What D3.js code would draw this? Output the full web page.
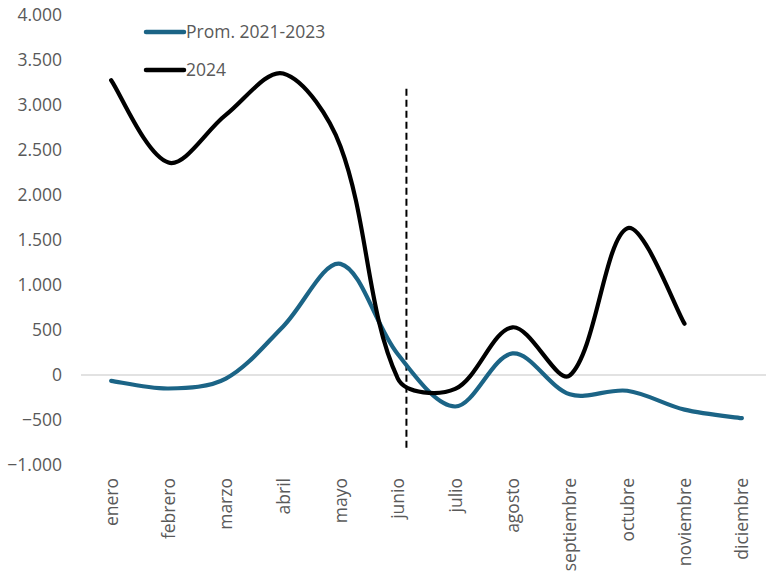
<!DOCTYPE html>
<html>
<head>
<meta charset="utf-8">
<script src="https://cdn.jsdelivr.net/npm/d3@7"></script>
<style>
  html, body { margin: 0; padding: 0; background: #ffffff; }
  svg { display: block; }
  text { font-family: "Open Sans", "Liberation Sans", sans-serif; fill: #595959; }
</style>
</head>
<body>
<svg id="chart" width="766" height="574"></svg>
<script>
// Months on the category axis
const months = ["enero", "febrero", "marzo", "abril", "mayo", "junio",
                "julio", "agosto", "septiembre", "octubre", "noviembre", "diciembre"];

// Average 2021-2023
const prom = [-65, -150, -40, 540, 1235, 230, -350, 240, -215, -175, -385, -480];

// 2024 (through noviembre)
const y2024 = [3275, 2360, 2890, 3350, 2540, -40, -155, 530, -5, 1630, 570];

// Value-axis ticks
const yTicks = [-1000, -500, 0, 500, 1000, 1500, 2000, 2500, 3000, 3500, 4000];

// Vertical dashed reference: category position and value span
const refPos = 5.15;
const refSpan = [3180, -810];

const legendItems = [
  { label: "Prom. 2021-2023", color: "#1b6486" },
  { label: "2024", color: "#000000" }
];

// Smooth curve whose tangents are split by neighbouring chord lengths,
// so short segments next to long ones do not overshoot.
function curveChordSmooth(context) {
  let pts = [];
  return {
    areaStart() {}, areaEnd() {},
    lineStart() { pts = []; },
    point(x, y) { pts.push([+x, +y]); },
    lineEnd() {
      const n = pts.length;
      if (!n) return;
      context.moveTo(pts[0][0], pts[0][1]);
      if (n === 1) return;
      if (n === 2) { context.lineTo(pts[1][0], pts[1][1]); return; }
      const inC = [], outC = [];
      for (let i = 0; i < n; i++) {
        const p = pts[i];
        if (i === 0) {
          const q = pts[1];
          outC[i] = [p[0] + (q[0] - p[0]) / 6, p[1] + (q[1] - p[1]) / 6];
        } else if (i === n - 1) {
          const q = pts[n - 2];
          inC[i] = [p[0] + (q[0] - p[0]) / 6, p[1] + (q[1] - p[1]) / 6];
        } else {
          const a = pts[i - 1], b = pts[i + 1];
          const tx = b[0] - a[0], ty = b[1] - a[1];
          const dIn = Math.hypot(p[0] - a[0], p[1] - a[1]);
          const dOut = Math.hypot(b[0] - p[0], b[1] - p[1]);
          const s = dIn + dOut || 1;
          const kIn = dIn / s / 3, kOut = dOut / s / 3;
          inC[i] = [p[0] - tx * kIn, p[1] - ty * kIn];
          outC[i] = [p[0] + tx * kOut, p[1] + ty * kOut];
        }
      }
      for (let i = 0; i < n - 1; i++) {
        const c1 = outC[i], c2 = inC[i + 1], e = pts[i + 1];
        context.bezierCurveTo(c1[0], c1[1], c2[0], c2[1], e[0], e[1]);
      }
    }
  };
}

const svg = d3.select("#chart");
const W = 766, H = 574;

const x = d3.scaleLinear().domain([-0.5, months.length - 0.5]).range([82.5, 770.5]);
const y = d3.scaleLinear().domain([-1000, 4000]).range([465, 15]);

const fmt = v => d3.format(",")(v).replace(/,/g, ".");

// Zero line
svg.append("line")
  .attr("x1", 81).attr("x2", W)
  .attr("y1", y(0)).attr("y2", y(0))
  .attr("stroke", "#d9d9d9").attr("stroke-width", 1.3);

// Value axis labels
const yAxis = d3.axisLeft(y).tickValues(yTicks).tickFormat(fmt).tickSize(0).tickPadding(0);
const gy = svg.append("g").attr("transform", "translate(62,0)").call(yAxis);
gy.select(".domain").remove();
gy.selectAll("text")
  .style("font-family", '"Open Sans", "Liberation Sans", sans-serif')
  .style("font-size", "17.5px")
  .attr("fill", "#595959");

// Category labels, rotated
const xAxis = d3.axisBottom(x).tickValues(d3.range(months.length)).tickFormat(i => months[i]).tickSize(0).tickPadding(0);
const gx = svg.append("g").attr("transform", "translate(0,478)").call(xAxis);
gx.select(".domain").remove();
gx.selectAll("text")
  .style("font-family", '"Open Sans", "Liberation Sans", sans-serif')
  .style("font-size", "17.5px")
  .attr("fill", "#595959")
  .attr("transform", "rotate(-90)")
  .attr("text-anchor", "end")
  .attr("x", 0)
  .attr("y", 0)
  .attr("dy", "0.35em");

// Dashed reference line
svg.append("line")
  .attr("x1", x(refPos)).attr("x2", x(refPos))
  .attr("y1", y(refSpan[0])).attr("y2", y(refSpan[1]))
  .attr("stroke", "#000").attr("stroke-width", 2)
  .attr("stroke-dasharray", "7,4");

const line = d3.line()
  .x((d, i) => x(i))
  .y(d => y(d))
  .curve(curveChordSmooth);

svg.append("path")
  .attr("d", line(prom))
  .attr("fill", "none")
  .attr("stroke", legendItems[0].color)
  .attr("stroke-width", 4.2)
  .attr("stroke-linecap", "round");

svg.append("path")
  .attr("d", line(y2024))
  .attr("fill", "none")
  .attr("stroke", legendItems[1].color)
  .attr("stroke-width", 4.2)
  .attr("stroke-linecap", "round");

// Legend
const lg = svg.append("g");
legendItems.forEach((it, i) => {
  const cy = 32 + i * 38;
  lg.append("line")
    .attr("x1", 146).attr("x2", 184)
    .attr("y1", cy).attr("y2", cy)
    .attr("stroke", it.color).attr("stroke-width", 4.5)
    .attr("stroke-linecap", "round");
  lg.append("text")
    .attr("x", 186).attr("y", cy)
    .attr("dy", "0.35em")
    .style("font-size", "17.5px")
    .attr("fill", "#262626")
    .text(it.label);
});
</script>
</body>
</html>
